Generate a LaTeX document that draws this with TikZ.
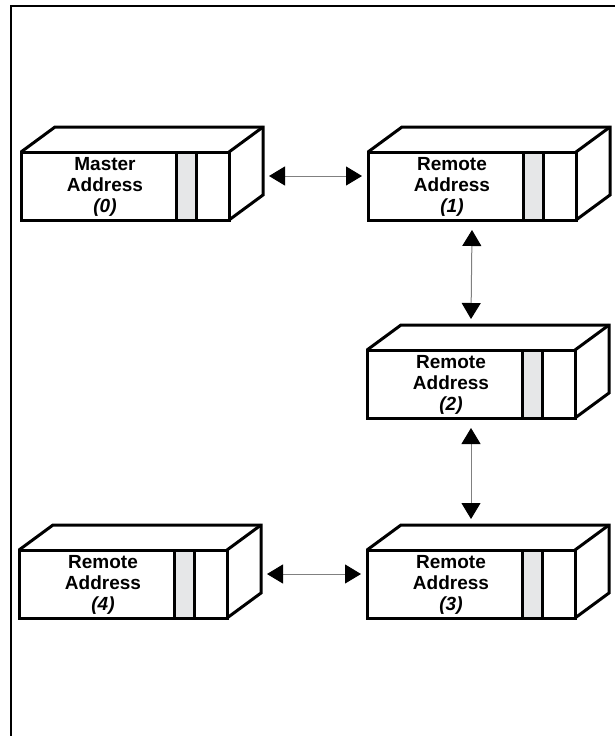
\documentclass[tikz,border=0pt]{standalone}
\usepackage{fontspec}
\setmainfont{Liberation Sans}
\usepackage{tikz}
\usetikzlibrary{calc, arrows.meta}
\definecolor{stripgray}{HTML}{E6E7E8}

% 箱（名前, 前面左上 x, y, 文字）
\newcommand{\addrbox}[4]{%
  \node[face] (#1) at (#2,#3) {};
  \draw[edge] (#1.north west) -- ++(34,-25) -- ++(208,0) -- ++(0,68) -- (#1.south east);
  \draw[edge] (#1.north east) -- ++(34,-25);
  \filldraw[strip] ($(#1.north west)+(155,0)$) rectangle ($(#1.south west)+(175,0)$);
  \node[txt] (#1-t) at ($(#1.north west)+(84,35)$) {#4};
  % 矢印の端
  \coordinate (#1-e) at ($(#1.north west)+(248,24)$);
  \coordinate (#1-w) at ($(#1.north west)+(-6,24)$);
  \coordinate (#1-s) at ($(#1.north west)+(104,78)$);
  \coordinate (#1-n) at ($(#1.north west)+(104,-31)$);
}

\begin{document}
\begin{tikzpicture}[x=1pt, y=-1pt,
    >={Triangle[length=16pt, width=19pt, color=black]},
    face/.style={draw, line width=3pt, minimum width=208pt, minimum height=68pt,
      inner sep=0pt, outer sep=0pt, anchor=north west, fill=white},
    edge/.style={line width=3pt},
    strip/.style={line width=3pt, fill=stripgray},
    txt/.style={font=\bfseries\fontsize{19}{21}\selectfont, align=center, inner sep=0pt},
    link/.style={<->, draw=gray, line width=1pt}]
  \useasboundingbox (0,0) rectangle (615,736);
  % 枠
  \draw[line width=2.5pt] (11,736) -- (11,6) -- (615,6);
  % 箱
  \addrbox{b0}{21}{152}{Master\\Address\\\textit{(0)}}
  \addrbox{b1}{368}{152}{Remote\\Address\\\textit{(1)}}
  \addrbox{b2}{367}{350}{Remote\\Address\\\textit{(2)}}
  \addrbox{b3}{367}{550}{Remote\\Address\\\textit{(3)}}
  \addrbox{b4}{19}{550}{Remote\\Address\\\textit{(4)}}
  % 矢印
  \draw[link] (b0-e) -- (b1-w);
  \draw[link] (b1-s) -- (b2-n);
  \draw[link] (b2-s) -- (b3-n);
  \draw[link] (b4-e) -- (b3-w);
\end{tikzpicture}
\end{document}
